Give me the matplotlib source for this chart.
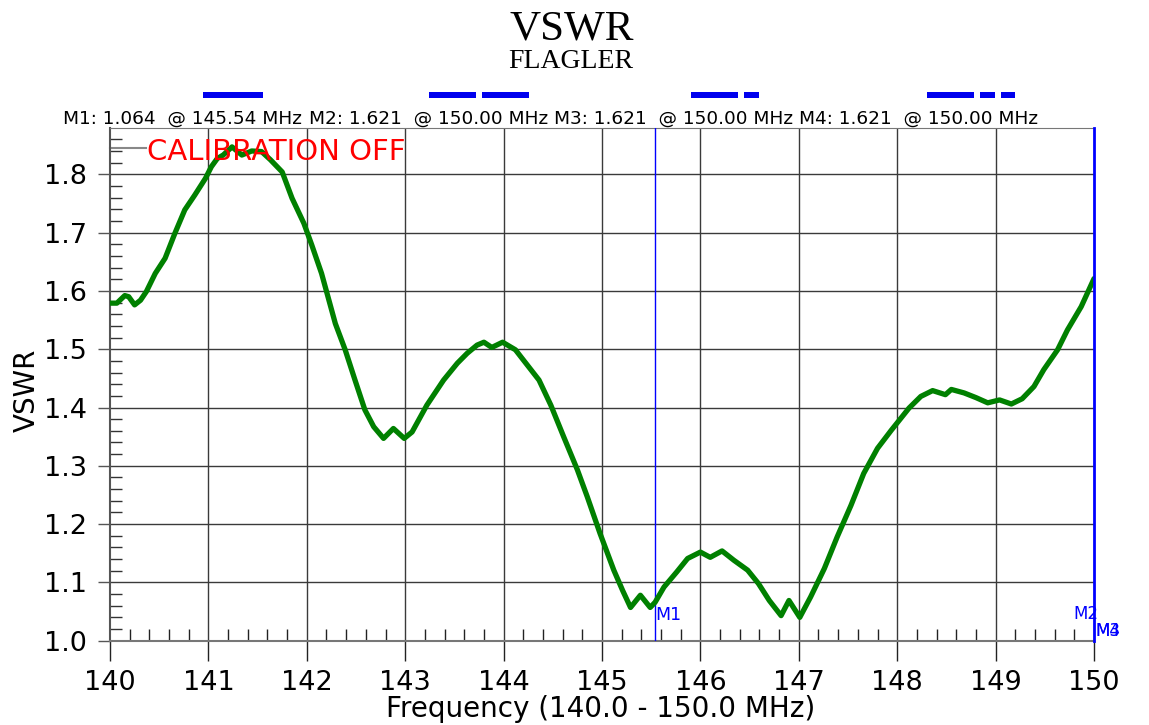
import matplotlib
matplotlib.use("Agg")
import matplotlib.pyplot as plt
from matplotlib.patches import Rectangle
from matplotlib.ticker import MultipleLocator

# ---------------- data ----------------
freq_mhz = [140.00, 140.07, 140.15, 140.19, 140.25, 140.31, 140.37, 140.46, 140.56, 140.66,
            140.76, 140.86, 140.97, 141.03, 141.09, 141.15, 141.24, 141.34, 141.44, 141.54,
            141.63, 141.75, 141.85, 141.97, 142.05, 142.15, 142.29, 142.39, 142.49, 142.59,
            142.68, 142.78, 142.88, 142.99, 143.07, 143.22, 143.39, 143.53, 143.63, 143.73,
            143.80, 143.88, 143.99, 144.12, 144.24, 144.36, 144.48, 144.61, 144.75, 144.85,
            144.98, 145.12, 145.21, 145.29, 145.39, 145.49, 145.54, 145.63, 145.76, 145.87,
            146.00, 146.10, 146.22, 146.34, 146.48, 146.59, 146.70, 146.82, 146.90, 147.01,
            147.12, 147.26, 147.39, 147.53, 147.66, 147.80, 147.94, 148.03, 148.12, 148.24,
            148.36, 148.49, 148.55, 148.68, 148.80, 148.92, 149.04, 149.16, 149.27, 149.39,
            149.49, 149.63, 149.73, 149.87, 150.00]
vswr = [1.579, 1.579, 1.592, 1.590, 1.576, 1.584, 1.599, 1.630, 1.656, 1.699,
        1.739, 1.764, 1.793, 1.813, 1.827, 1.833, 1.847, 1.833, 1.840, 1.839,
        1.825, 1.804, 1.759, 1.716, 1.679, 1.630, 1.544, 1.499, 1.447, 1.396,
        1.367, 1.347, 1.364, 1.347, 1.358, 1.404, 1.447, 1.476, 1.493, 1.507,
        1.512, 1.503, 1.512, 1.499, 1.473, 1.447, 1.404, 1.350, 1.293, 1.247,
        1.184, 1.121, 1.086, 1.057, 1.078, 1.057, 1.066, 1.092, 1.118, 1.141,
        1.152, 1.143, 1.154, 1.138, 1.121, 1.098, 1.069, 1.043, 1.069, 1.040,
        1.075, 1.124, 1.178, 1.232, 1.287, 1.330, 1.361, 1.380, 1.399, 1.419,
        1.429, 1.422, 1.431, 1.425, 1.417, 1.408, 1.413, 1.406, 1.415, 1.436,
        1.465, 1.499, 1.533, 1.573, 1.621]

x_ticks = [140, 141, 142, 143, 144, 145, 146, 147, 148, 149, 150]
y_ticks = [1.0, 1.1, 1.2, 1.3, 1.4, 1.5, 1.6, 1.7, 1.8]
y_tick_labels = ["1.0", "1.1", "1.2", "1.3", "1.4", "1.5", "1.6", "1.7", "1.8"]

marker_names = ["M1", "M2", "M3", "M4"]
marker_freq = [145.54, 150.00, 150.00, 150.00]
marker_vswr = [1.064, 1.621, 1.621, 1.621]

title = "VSWR"
subtitle = "FLAGLER"
status_text = "CALIBRATION OFF"
x_label = "Frequency (140.0 - 150.0 MHz)"
y_label = "VSWR"

# ---------------- layout (pixels) ----------------
W, H = 1149, 725
AX_L, AX_R, AX_B, AX_T = 110, 1094, 640.7, 128
readout_x_px = [63, 309, 554, 799]
readout_base_px = 124
bar_spans_px = [(203, 263), (429, 476), (482, 529), (691, 738), (744, 759),
                (927, 974), (980, 995), (1001, 1015)]
bar_y_px = (91.7, 98.3)

plt.rcParams['font.family'] = ['DejaVu Sans']

fig = plt.figure(figsize=(W / 100, H / 100), dpi=100)
fig.patch.set_facecolor("white")
ax = fig.add_axes([AX_L / W, 1 - AX_B / H, (AX_R - AX_L) / W, (AX_B - AX_T) / H])

ylim_top = 1.0 + (AX_B - AX_T) / 583.0
ax.set_xlim(140, 150)
ax.set_ylim(1.0, ylim_top)

# grid
grid_col = "#3a3a3a"
for xv in x_ticks[1:-1]:
    ax.axvline(xv, color=grid_col, lw=1.0, zorder=1)
for yv in y_ticks[1:]:
    ax.axhline(yv, color=grid_col, lw=1.0, zorder=1)

# reference level tick
ax.plot([0, 0.037], [1.845, 1.845], color="#888888", lw=1.5,
        transform=ax.get_yaxis_transform(), zorder=2, clip_on=False)

# trace
ax.plot(freq_mhz, vswr, color="#008000", lw=3.8, solid_joinstyle="round",
        solid_capstyle="round", zorder=4)

# markers
ax.axvline(marker_freq[0], color="#0000ff", lw=1.0, zorder=3)
ax.axvline(marker_freq[1], color="#0000ff", lw=2.0, zorder=5, clip_on=False)
ax.text(marker_freq[0], 1.0 + (AX_B - 620) / 583.0, marker_names[0],
        color="#0000ff", fontsize=12.5, ha="left", va="baseline", zorder=6)
fig.text(1073 / W, 1 - 619 / H, marker_names[1], color="#0000ff", fontsize=12,
         ha="left", va="baseline")
fig.text(1095 / W, 1 - 636 / H, marker_names[2], color="#0000ff", fontsize=12,
         ha="left", va="baseline")
fig.text(1095 / W, 1 - 636 / H, marker_names[3], color="#0000ff", fontsize=12,
         ha="left", va="baseline")

# spines
ax.spines["right"].set_visible(False)
ax.spines["top"].set_color("#777777")
ax.spines["top"].set_linewidth(0.8)
ax.spines["left"].set_color("#555555")
ax.spines["left"].set_linewidth(1.5)
ax.spines["bottom"].set_color("#777777")
ax.spines["bottom"].set_linewidth(1.5)

# ticks
ax.set_xticks(x_ticks)
ax.set_xticklabels([str(v) for v in x_ticks])
ax.set_yticks(y_ticks)
ax.set_yticklabels(y_tick_labels)
ax.xaxis.set_minor_locator(MultipleLocator(0.2))
ax.yaxis.set_minor_locator(MultipleLocator(0.02))
ax.tick_params(axis="x", which="major", direction="out", length=14.4, width=1.0,
               color="#222222", labelsize=19.5, pad=7, top=False)
ax.tick_params(axis="x", which="minor", direction="in", length=9, width=1.0,
               color="#222222", top=False)
ax.tick_params(axis="y", which="major", direction="out", length=8.6, width=1.0,
               color="#555555", labelsize=19.5, pad=8, right=False)
ax.tick_params(axis="y", which="minor", direction="in", length=8.6, width=1.0,
               color="#333333", right=False)

# labels
fig.text(601 / W, 1 - 695 / H, x_label, fontsize=20, ha="center", va="top")
fig.text(27 / W, 1 - 390 / H, y_label, fontsize=20, ha="center", va="center",
         rotation=90)

# titles
fig.text(572 / W, 1 - 39.3 / H, title, fontsize=31, ha="center", va="baseline",
         family="Liberation Serif")
fig.text(571 / W, 1 - 68.3 / H, subtitle, fontsize=20, ha="center", va="baseline",
         family="Liberation Serif")

# status
fig.text(147 / W, 1 - 160 / H, status_text, fontsize=21, color="#ff0000",
         ha="left", va="baseline")

# marker readouts
for name, f, v, xp in zip(marker_names, marker_freq, marker_vswr, readout_x_px):
    fig.text(xp / W, 1 - readout_base_px / H, f"{name}: {v:.3f}  @ {f:.2f} MHz",
             fontsize=13.3, ha="left", va="baseline", color="black")

# indicator bars
for x0, x1 in bar_spans_px:
    fig.patches.append(Rectangle((x0 / W, 1 - bar_y_px[1] / H), (x1 - x0) / W,
                                 (bar_y_px[1] - bar_y_px[0]) / H,
                                 transform=fig.transFigure, facecolor="#0000ee",
                                 edgecolor="none"))

fig.savefig("out.png", dpi=100, facecolor="white")
